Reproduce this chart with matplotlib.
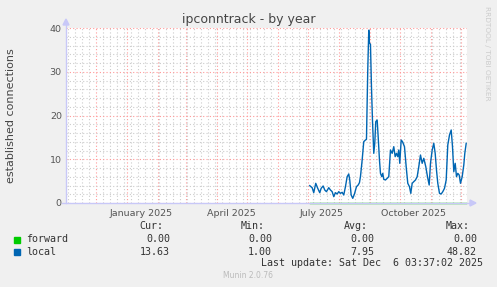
import matplotlib as mpl
mpl.use("Agg")
import matplotlib.pyplot as plt
import matplotlib.dates as mdates
from matplotlib.lines import Line2D
from matplotlib.patches import Polygon, Rectangle
import numpy as np
import datetime as dt

# local connections: days after 2025-07-01 and values
days = [1.8, 4.2, 5.8, 7.8, 9.8, 11.8, 13.2, 15.2, 16.8, 18.5,
        20.8, 22.5, 24.2, 25.8, 27.5, 29.2, 30.8, 32.5, 34.2, 35.8,
        37.5, 39.2, 40.8, 41.8, 43.2, 44.8, 46.5, 48.5, 50.2, 51.5,
        52.5, 54.2, 55.8, 57.5, 58.5, 59.8, 60.8, 61.5, 62.5, 63.5,
        64.5, 65.8, 66.8, 67.8, 69.2, 70.2, 71.5, 72.5, 73.8, 74.8,
        75.8, 77.5, 79.2, 80.8, 82.5, 84.2, 85.8, 87.2, 88.5, 89.8,
        90.8, 91.8, 93.2, 94.5, 96.5, 98.2, 99.8, 101.5, 102.8, 104.2,
        105.8, 107.5, 109.2, 110.8, 112.5, 114.2, 115.8, 117.8, 119.5, 121.2,
        122.5, 124.2, 125.8, 127.2, 128.5, 129.8, 131.5, 133.2, 134.8, 136.5,
        138.2, 139.8, 141.5, 143.2, 144.5, 145.8, 147.2, 148.5, 149.8, 151.2,
        152.5, 154.2, 155.8, 156.8, 158.2]
local = [3.96, 3.50, 2.36, 4.50, 3.35, 2.36, 3.35, 3.89, 2.97, 2.59,
         3.50, 2.97, 2.59, 1.45, 2.36, 2.06, 2.59, 2.21, 2.44, 1.83,
         3.73, 6.02, 6.63, 5.26, 1.83, 1.07, 2.06, 3.73, 4.11, 4.65,
         6.02, 9.83, 14.02, 14.40, 14.55, 30.4, 39.5, 36.5, 36.3, 26.6,
         18.97, 11.35, 13.64, 18.59, 18.97, 15.16, 9.83, 6.78, 6.02, 6.78,
         5.41, 5.26, 5.64, 6.02, 12.11, 11.35, 12.88, 10.59, 11.35, 10.59,
         12.11, 9.07, 14.40, 14.02, 12.88, 8.30, 4.50, 3.73, 2.21, 4.50,
         4.88, 5.26, 6.02, 8.30, 10.97, 9.07, 10.21, 8.30, 6.02, 4.11,
         9.07, 12.11, 13.64, 11.35, 7.54, 4.50, 2.21, 2.06, 2.59, 3.35,
         5.26, 13.26, 15.54, 16.69, 12.88, 7.16, 9.07, 6.02, 6.78, 6.40,
         4.50, 6.02, 8.69, 11.35, 13.64]
forward = [0.0] * len(local)

names = ["forward", "local"]
colors = ["#00CC00", "#0066B3"]
cur = ["0.00", "13.63"]
vmin = ["0.00", "1.00"]
avg = ["0.00", "7.95"]
vmax = ["0.00", "48.82"]

W, H = 497, 287
def fx(px): return px / W
def fy(py): return 1 - py / H

t0 = dt.datetime(2025, 7, 1)
t = [t0 + dt.timedelta(days=d) for d in days]
start = dt.datetime(2024, 11, 1, 3, 37)
end = dt.datetime(2025, 12, 6, 3, 37)

fig = plt.figure(figsize=(W / 100, H / 100), dpi=100, facecolor="#F0F0F0")
ax = fig.add_axes([fx(66), fy(203), fx(467) - fx(66), fy(28) - fy(203)])
ax.set_facecolor("white")
for s in ax.spines.values():
    s.set_visible(False)

ax.set_xlim(start, end)
ax.set_ylim(0, 40)

months = []
y, m = 2024, 12
while dt.datetime(y, m, 1) < end:
    months.append(dt.datetime(y, m, 1))
    m += 1
    if m > 12:
        y, m = y + 1, 1
weeks = [dt.datetime(2024, 11, 3) + dt.timedelta(days=7 * i) for i in range(58)]
ax.set_xticks(months)
ax.set_xticks(weeks, minor=True)
ax.set_yticks([0, 10, 20, 30, 40])
ax.set_yticks(np.arange(0, 41, 2), minor=True)
ax.grid(which="minor", color="#CCCCCC", linestyle=(0, (1, 2)), linewidth=0.8)
ax.grid(which="major", color="#FF9999", linestyle=(0, (1, 2)), linewidth=0.8)
ax.set_axisbelow(True)
ax.tick_params(axis="x", which="both", length=0, labelbottom=False)
ax.tick_params(axis="y", which="both", length=0, pad=3, labelsize=6.8, labelcolor="#555555")

# quarter labels centred mid-month
for lab, d in [("January 2025", dt.datetime(2025, 1, 15)), ("April 2025", dt.datetime(2025, 4, 15)),
               ("July 2025", dt.datetime(2025, 7, 15)), ("October 2025", dt.datetime(2025, 10, 15))]:
    ax.text(mdates.date2num(d), -2.3, lab, ha="center", va="center", fontsize=6.8,
            color="#555555", clip_on=False)

# axis lines with arrows
ac = "#C8C8F8"
fig.add_artist(Line2D([fx(66), fx(66)], [fy(203), fy(24)], color=ac, linewidth=1))
fig.add_artist(Line2D([fx(62), fx(470)], [fy(203), fy(203)], color=ac, linewidth=1))
fig.add_artist(Polygon([[fx(63), fy(25)], [fx(69), fy(25)], [fx(66), fy(19)]], closed=True, color=ac))
fig.add_artist(Polygon([[fx(470), fy(200)], [fx(470), fy(206)], [fx(476), fy(203)]], closed=True, color=ac))

ax.plot(t, forward, color=colors[0], linewidth=1.0, zorder=5, clip_on=False)
ax.plot(t, local, color=colors[1], linewidth=1.0, zorder=4)

fig.text(fx(248.5), fy(19), "ipconntrack - by year", ha="center", va="center", fontsize=9, color="#444444")
fig.text(fx(11), fy(115.5), "established connections", rotation=90, ha="center", va="center",
         fontsize=8, color="#444444")
fig.text(fx(487), fy(6), "RRDTOOL / TOBI OETIKER", rotation=270, ha="center", va="top",
         fontsize=5.3, color="#CCCCCC")

mono = dict(family="DejaVu Sans Mono", fontsize=7.2, color="#333333", va="center")
for lab, xr in [("Cur:", 163), ("Min:", 265), ("Avg:", 368), ("Max:", 470)]:
    fig.text(fx(xr), fy(226), lab, ha="right", **mono)
for i, n in enumerate(names):
    yy = 239.5 + 12.3 * i
    fig.add_artist(Rectangle((fx(14), fy(yy + 3)), fx(6), fy(yy - 3) - fy(yy + 3), color=colors[i]))
    fig.text(fx(26.5), fy(yy), n, ha="left", **mono)
    fig.text(fx(170), fy(yy), cur[i], ha="right", **mono)
    fig.text(fx(272), fy(yy), vmin[i], ha="right", **mono)
    fig.text(fx(374), fy(yy), avg[i], ha="right", **mono)
    fig.text(fx(477), fy(yy), vmax[i], ha="right", **mono)
fig.text(fx(483), fy(263.5), "Last update: Sat Dec  6 03:37:02 2025", ha="right", **mono)
fig.text(fx(248), fy(276), "Munin 2.0.76", ha="center", va="center", fontsize=5.5, color="#BBBBBB")

fig.savefig("out.png", dpi=100, facecolor=fig.get_facecolor())
